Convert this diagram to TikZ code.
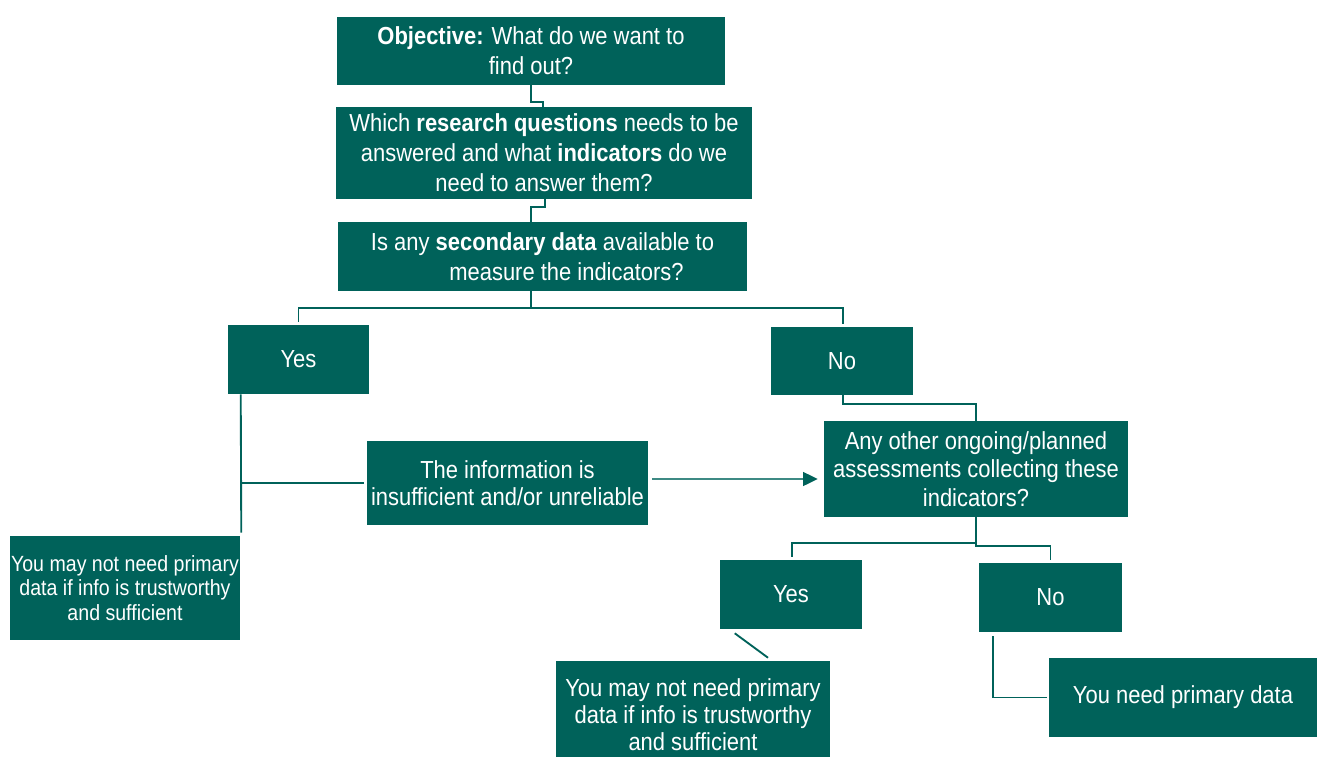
\documentclass[tikz,border=0pt]{standalone}
\usepackage{fontspec}
\setmainfont{Liberation Sans}[FakeStretch=0.89]
\usetikzlibrary{arrows.meta,calc}
\definecolor{teal}{HTML}{00625A}
\definecolor{tealline}{HTML}{3E8A84}
\begin{document}
\begin{tikzpicture}[x=0.75pt,y=-0.75pt,
  box/.style={fill=teal,text=white,inner sep=0pt,align=center,font=\fontsize{18.5}{22.5}\selectfont},
  conn/.style={draw=teal,line width=1.4pt},
  arr/.style={draw=tealline,line width=1pt,-{Triangle[length=11pt,width=10.5pt,color=teal]}}]
\useasboundingbox (0,0) rectangle (1318,758);
\node[box,minimum width=291pt,minimum height=51pt] (obj) at (531,51) {\textbf{Objective:} What do we want to\\find out?};
\node[box,minimum width=312pt,minimum height=69pt] (rq) at (544,153) {Which \textbf{research questions} needs to be\\answered and what \textbf{indicators} do we\\need to answer them?};
\node[box,minimum width=306.75pt,minimum height=51.75pt] (sec) at (542.5,256.5) {Is any \textbf{secondary data} available to\\\hspace*{36pt}measure the indicators?};
\node[box,minimum width=105.75pt,minimum height=51.75pt] (yes1) at (298.5,359.5) {Yes};
\node[box,minimum width=106.5pt,minimum height=51pt] (no1) at (842,361) {No};
\node[box,minimum width=210.75pt,minimum height=63pt,font=\fontsize{18.5}{20.5}\selectfont] (info) at (507.5,483) {The information is\\insufficient and/or unreliable};
\node[box,minimum width=228pt,minimum height=72pt,font=\fontsize{18.5}{21.5}\selectfont] (other) at (976,469) {Any other ongoing/planned\\assessments collecting these\\indicators?};
\node[box,minimum width=172.5pt,minimum height=78pt,font=\fontsize{16.5}{18.4}\selectfont] (may1) at (125,588) {You may not need primary\\data if info is trustworthy\\and sufficient};
\node[box,minimum width=106.5pt,minimum height=51.75pt] (yes2) at (791,594.5) {Yes};
\node[box,minimum width=107.25pt,minimum height=51.75pt] (no2) at (1050.5,597.5) {No};
\node[box,minimum width=205.5pt,minimum height=72pt,font=\fontsize{18.5}{20.3}\selectfont] (may2) at (693,709) {\rule{0pt}{22.5pt}You may not need primary\\data if info is trustworthy\\and sufficient};
\node[box,minimum width=201pt,minimum height=59.25pt] (need) at (1183,697.5) {You need primary data};
% connectors
\draw[conn] (obj.south) -- ++(0,17) -| ($(rq.north)+(-1,0)$);
\draw[conn] ($(rq.south)+(1,0)$) -- ++(0,8) -| ($(sec.north)+(-11.5,0)$);
\draw[conn] ($(sec.south)+(-11.5,0)$) -- ++(0,17) coordinate (s1) -| ($(yes1.north)+(0,-3)$);
\draw[conn] (s1) -| ($(no1.north)+(1,-3)$);
\draw[conn] ($(no1.south)+(1,0)$) -- ++(0,9) -| (other.north);
\draw[conn] ($(yes1.south west)+(13,0)$) -- ($(may1.north east)+(1,-3)$);
\draw[conn] ($(info.west)+(-3,0)$) -- ($(info.west -| may1.north east)+(1,0)$);
\draw[arr] ($(info.east)+(4,-4)$) -- ($(info.east -| other.west)+(-6,-4)$);
\draw[conn] (other.south) -- ++(0,26) coordinate (s2) -| ($(yes2.north)+(1,-3)$);
\draw[conn] (s2) -- ++(0,3) -| ($(no2.north)+(0,-3)$);
\draw[conn] ($(yes2.south west)+(15,4)$) -- ($(may2.north)+(75,-3)$);
\draw[conn] ($(no2.south west)+(14,4)$) |- ($(need.west)+(-2,0)$);
\end{tikzpicture}
\end{document}
